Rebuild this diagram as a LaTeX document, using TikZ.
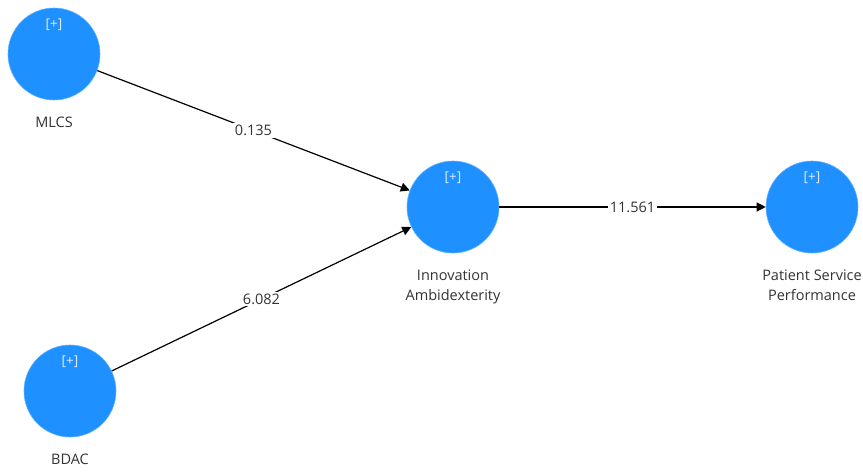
\documentclass[tikz,border=0pt]{standalone}
\usepackage{fontspec}
\setmainfont{Open Sans}
\usepackage{tikz}
\usetikzlibrary{arrows}
\usetikzlibrary{arrows.meta}

\definecolor{lvblue}{HTML}{1E90FF}
\definecolor{lvtext}{HTML}{333333}

\tikzset{
  latent/.style={circle,fill=lvblue,draw=lvblue!70!white,line width=0.6pt,minimum size=92pt,inner sep=0pt},
  plus/.style={text=white!85!lvblue,font=\fontsize{13.5}{15}\selectfont,inner sep=0pt},
  lvlabel/.style={text=lvtext,font=\fontsize{14.5}{20}\selectfont,align=center,anchor=north,inner sep=0pt},
  lvpath/.style={line width=1.2pt,-{Triangle[length=9pt,width=9pt]}},
  weight/.style={fill=white,text=lvtext,font=\fontsize{14.5}{16}\selectfont,inner sep=2pt}
}

\begin{document}
\begin{tikzpicture}[x=1pt,y=-1pt]
\useasboundingbox (0,0) rectangle (863,472);
\node[latent] (MLCS) at (54,54) {};
\node[latent] (BDAC) at (70,391) {};
\node[latent] (IA) at (453,207) {};
\node[latent] (PSP) at (812,207) {};
\node[plus] (MLCSp) at (54,25) {[+]};
\node[plus] (BDACp) at (70,362) {[+]};
\node[plus] (IAp) at (453,178) {[+]};
\node[plus] (PSPp) at (812,178) {[+]};
\node[lvlabel] (MLCSt) at (54,117) {MLCS};
\node[lvlabel] (BDACt) at (70,454) {BDAC};
\node[lvlabel] (IAt) at (453,270) {Innovation\\Ambidexterity};
\node[lvlabel] (PSPt) at (812,270) {Patient Service\\Performance};
\draw[lvpath] (MLCS) -- node[weight] (w1) {0.135} (IA);
\draw[lvpath] (BDAC) -- node[weight] (w2) {6.082} (IA);
\draw[lvpath] (IA) -- node[weight] (w3) {11.561} (PSP);
\end{tikzpicture}
\end{document}
